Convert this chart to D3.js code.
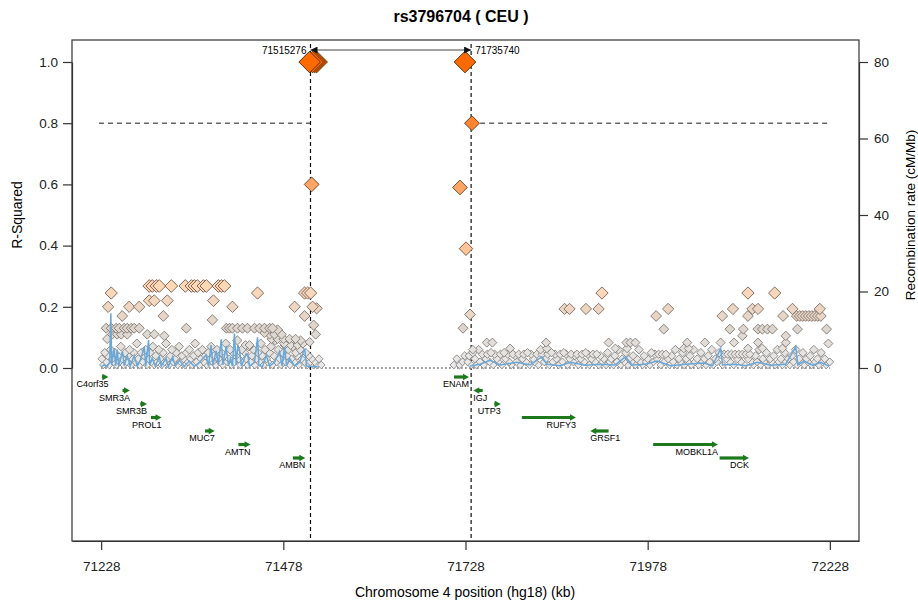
<!DOCTYPE html>
<html>
<head>
<meta charset="utf-8">
<script src="https://cdn.jsdelivr.net/npm/d3@7"></script>
<style>
body { margin: 0; background: #fff; }
svg { font-family: "Liberation Sans", Arial, Helvetica, sans-serif; }
</style>
</head>
<body>
<svg id="chart"></svg>
<script>
// ---- chart data ----
var title = "rs3796704 ( CEU )";
var xTicks = [71228, 71478, 71728, 71978, 72228];
var r2Ticks = [0, 0.2, 0.4, 0.6, 0.8, 1.0];
var recTicks = [0, 20, 40, 60, 80];
var queryPos = [71515.276, 71735.740];
var queryLabels = ["71515276", "71735740"];
var r2Threshold = 0.8;

// [position kb, r-squared]
var highSnps = [
  [71523.7, 1.0], [71521.0, 1.0], [71518.2, 1.0], [71514.1, 1.0],
  [71727.3, 1.0], [71736.9, 0.8], [71516.9, 0.6], [71720.4, 0.59], [71728.7, 0.39]
];

var leftUpperSnps = [
  [71294.0, 0.268], [71298.2, 0.268], [71303.7, 0.268], [71307.8, 0.268], [71324.3, 0.268],
  [71343.5, 0.268], [71351.8, 0.268], [71355.9, 0.268], [71360.0, 0.268], [71368.3, 0.268],
  [71372.4, 0.268], [71388.9, 0.268], [71393.1, 0.268], [71397.2, 0.268],
  [71241.8, 0.245], [71442.6, 0.245], [71507.2, 0.245], [71511.4, 0.245], [71515.5, 0.245],
  [71294.0, 0.22], [71300.9, 0.22], [71318.8, 0.22], [71382.1, 0.22],
  [71237.6, 0.2], [71266.5, 0.2], [71280.3, 0.2], [71408.2, 0.2], [71493.5, 0.2], [71518.2, 0.2], [71523.7, 0.195],
  [71256.9, 0.17], [71313.3, 0.17], [71380.7, 0.157], [71507.2, 0.17], [71519.6, 0.14],
  [71234.9, 0.13], [71241.8, 0.13], [71248.6, 0.13], [71252.8, 0.13], [71259.6, 0.13], [71263.8, 0.13],
  [71269.3, 0.13], [71273.4, 0.13], [71280.3, 0.13], [71344.9, 0.13], [71399.9, 0.13], [71404.1, 0.13],
  [71408.2, 0.13], [71415.1, 0.13], [71421.9, 0.13], [71428.8, 0.13], [71438.5, 0.13], [71445.3, 0.13],
  [71452.2, 0.13], [71459.1, 0.13], [71463.2, 0.13], [71470.1, 0.125],
  [71243.1, 0.11], [71250.0, 0.11], [71255.5, 0.11], [71263.8, 0.11], [71291.3, 0.11], [71300.9, 0.11],
  [71314.7, 0.105], [71452.2, 0.115], [71459.1, 0.11], [71466.0, 0.11], [71475.6, 0.11], [71522.4, 0.11],
  [71236.3, 0.095], [71461.8, 0.095], [71470.1, 0.095], [71478.3, 0.095], [71486.6, 0.095],
  [71494.8, 0.095], [71501.7, 0.09], [71514.1, 0.085],
  [71426.1, 0.075], [71431.6, 0.075], [71479.7, 0.075], [71488.0, 0.075], [71497.6, 0.075]
];

var leftLowSnps = [
  [71229, .03], [71231, .01], [71233, .05], [71235, .02], [71237, .04], [71239, .01], [71241, .06],
  [71243, .03], [71245, .02], [71247, .05], [71249, .01], [71251, .04], [71253, .02], [71255, .07],
  [71257, .03], [71259, .01], [71261, .05], [71263, .02], [71265, .04], [71267, .06], [71269, .01],
  [71271, .03], [71273, .05], [71275, .02], [71277, .08], [71279, .03], [71281, .01], [71283, .05],
  [71285, .02], [71287, .04], [71289, .06], [71291, .01], [71293, .03], [71295, .05], [71297, .02],
  [71299, .07], [71301, .01], [71303, .04], [71305, .02], [71307, .06], [71309, .03], [71311, .01],
  [71313, .05], [71315, .02], [71317, .08], [71319, .03], [71321, .01], [71323, .04], [71325, .06],
  [71327, .02], [71329, .03], [71331, .05], [71333, .01], [71335, .07], [71337, .02], [71339, .04],
  [71341, .03], [71343, .01], [71345, .05], [71347, .02], [71349, .06], [71351, .03], [71353, .01],
  [71355, .04], [71357, .08], [71359, .02], [71361, .05], [71363, .01], [71365, .03], [71367, .06],
  [71369, .02], [71371, .04], [71373, .01], [71375, .05], [71377, .03], [71379, .07], [71381, .02],
  [71383, .04], [71385, .01], [71387, .06], [71389, .03], [71391, .02], [71393, .05], [71395, .01],
  [71397, .04], [71399, .08], [71401, .02], [71403, .03], [71405, .06], [71407, .01], [71409, .05],
  [71411, .02], [71413, .04], [71415, .09], [71417, .03], [71419, .01], [71421, .06], [71423, .02],
  [71425, .05], [71427, .03], [71429, .01], [71431, .07], [71433, .02], [71435, .04], [71437, .06],
  [71439, .01], [71441, .03], [71443, .05], [71445, .02], [71447, .08], [71449, .04], [71451, .01],
  [71453, .06], [71455, .03], [71457, .02], [71459, .05], [71461, .07], [71463, .01], [71465, .04],
  [71467, .09], [71469, .02], [71471, .06], [71473, .03], [71475, .01], [71477, .05], [71479, .08],
  [71481, .02], [71483, .04], [71485, .06], [71487, .01], [71489, .03], [71491, .07], [71493, .02],
  [71495, .05], [71497, .04], [71499, .01], [71501, .06], [71503, .03], [71505, .08], [71507, .02],
  [71509, .05], [71511, .01], [71513, .04], [71515, .02], [71517, .03], [71519, .01], [71521, .02],
  [71524, .01], [71527, .03], [71530, .01]
];

var rightUpperSnps = [
  [71915.3, 0.245], [72115.6, 0.245], [72152.3, 0.245],
  [71863.9, 0.193], [71870.8, 0.193], [71893.3, 0.193], [71910.7, 0.193], [72006.1, 0.193],
  [72095.0, 0.193], [72121.7, 0.193], [72129.4, 0.193], [72176.7, 0.193], [72214.2, 0.193],
  [71989.6, 0.17], [72080.4, 0.17], [72115.6, 0.17], [72163.8, 0.17], [71734.2, 0.175],
  [72182.6, 0.17], [72186.7, 0.17], [72190.8, 0.17], [72195.0, 0.17], [72199.1, 0.17],
  [72203.2, 0.17], [72207.4, 0.17], [72211.5, 0.17], [72215.6, 0.17],
  [72000.1, 0.127], [72090.8, 0.127], [72109.3, 0.127], [72129.4, 0.127], [72135.4, 0.127],
  [72142.3, 0.127], [72149.2, 0.127], [72183.6, 0.127], [72223.5, 0.127], [71724.6, 0.13],
  [72107.9, 0.105], [72167.5, 0.105],
  [71757.2, 0.083], [71764.9, 0.083], [71838.7, 0.083], [71924.4, 0.083], [71948.8, 0.083],
  [71954.3, 0.083], [71961.1, 0.083], [72032.3, 0.083], [72056.5, 0.083], [72078.1, 0.083],
  [72096.4, 0.083], [72129.4, 0.083], [72167.5, 0.083],
  [71789.2, 0.064], [71839.7, 0.064], [71933.6, 0.064], [71949.7, 0.064], [72027.6, 0.064],
  [72034.1, 0.064], [72115.6, 0.064], [72135.4, 0.064], [72162.9, 0.064], [71738.0, 0.06]
];

var rightLowSnps = [
  [71712, .01], [71716, .03], [71720, .01], [71724, .02], [71727, .04],
  [71731, .02], [71733, .04], [71736, .01], [71738, .05], [71741, .03], [71743, .01], [71746, .06],
  [71748, .02], [71751, .045], [71753, .01], [71756, .03], [71758, .045], [71761, .02], [71763, .05],
  [71766, .01], [71768, .045], [71771, .03], [71773, .02], [71776, .045], [71778, .01], [71781, .05],
  [71783, .03], [71786, .045], [71788, .02], [71791, .01], [71793, .045], [71796, .04], [71798, .02],
  [71801, .045], [71803, .01], [71806, .03], [71808, .045], [71811, .02], [71813, .05], [71816, .01],
  [71818, .045], [71821, .03], [71823, .02], [71826, .045], [71828, .01], [71831, .06], [71833, .045],
  [71836, .02], [71838, .03], [71841, .045], [71843, .01], [71846, .05], [71848, .02], [71851, .045],
  [71853, .03], [71856, .01], [71858, .045], [71861, .02], [71863, .05], [71866, .045], [71868, .01],
  [71871, .03], [71873, .045], [71876, .02], [71878, .04], [71881, .045], [71883, .01], [71886, .03],
  [71888, .045], [71891, .02], [71893, .05], [71896, .045], [71898, .01], [71901, .03], [71903, .045],
  [71906, .02], [71908, .045], [71911, .01], [71913, .04], [71916, .02], [71918, .03], [71921, .01],
  [71923, .05], [71926, .02], [71928, .03], [71931, .01], [71933, .04], [71936, .02], [71938, .06],
  [71941, .01], [71943, .03], [71946, .02], [71948, .05], [71951, .01], [71953, .03], [71956, .02],
  [71958, .04], [71961, .01], [71963, .03], [71966, .06], [71968, .02], [71971, .01], [71973, .04],
  [71976, .02], [71978, .03], [71981, .01], [71983, .05], [71986, .02], [71988, .045], [71991, .03],
  [71993, .045], [71996, .01], [71998, .045], [72001, .02], [72003, .045], [72006, .03], [72008, .01],
  [72011, .04], [72013, .02], [72016, .06], [72018, .01], [72021, .03], [72023, .02], [72026, .05],
  [72028, .01], [72031, .03], [72033, .02], [72036, .04], [72038, .01], [72041, .06], [72043, .02],
  [72046, .03], [72048, .01], [72051, .05], [72053, .02], [72056, .03], [72058, .01], [72061, .04],
  [72063, .02], [72066, .06], [72068, .01], [72071, .03], [72073, .02], [72076, .05], [72078, .045],
  [72081, .01], [72083, .045], [72086, .03], [72088, .045], [72091, .02], [72093, .045], [72096, .01],
  [72098, .045], [72101, .03], [72103, .045], [72106, .02], [72108, .045], [72111, .01], [72113, .045],
  [72116, .03], [72118, .045], [72121, .02], [72123, .01], [72126, .04], [72128, .02], [72131, .06],
  [72133, .01], [72136, .03], [72138, .02], [72141, .05], [72143, .01], [72146, .03], [72148, .02],
  [72151, .04], [72153, .01], [72156, .06], [72158, .02], [72161, .03], [72163, .01], [72166, .05],
  [72168, .02], [72171, .03], [72173, .01], [72176, .04], [72178, .02], [72181, .06], [72183, .01],
  [72186, .03], [72188, .02], [72191, .05], [72193, .01], [72196, .03], [72198, .02], [72201, .04],
  [72203, .01], [72206, .06], [72208, .02], [72211, .03], [72213, .01], [72216, .05], [72218, .02],
  [72221, .03], [72223, .01], [72226, .08], [72228, .02]
];

// recombination rate, [position kb, cM/Mb]
var recombLeft = [
  [71228.0, 0.3], [71232.1, 0.8], [71236.3, 0.4], [71239.7, 1.5], [71241.3, 14.3], [71242.4, 0.8],
  [71245.9, 5.2], [71247.9, 0.6], [71250.0, 4.8], [71252.1, 0.5], [71257.3, 4.3], [71259.6, 0.6],
  [71263.8, 3.2], [71267.9, 0.5], [71273.4, 3.3], [71277.5, 0.4], [71281.6, 2.0], [71287.1, 5.5],
  [71289.2, 0.5], [71293.1, 7.3], [71294.7, 0.8], [71298.2, 2.5], [71302.3, 0.5], [71307.8, 3.0],
  [71310.5, 0.5], [71317.0, 2.6], [71320.2, 0.4], [71326.1, 2.9], [71329.8, 0.5], [71335.3, 2.0],
  [71342.2, 0.4], [71349.0, 1.8], [71355.9, 0.4], [71362.8, 1.5], [71372.0, 3.4], [71375.2, 0.5],
  [71378.9, 6.0], [71381.4, 0.8], [71385.8, 4.5], [71388.9, 0.8], [71392.7, 7.5], [71395.1, 0.8],
  [71399.5, 5.8], [71402.7, 0.6], [71405.4, 2.5], [71408.2, 0.5], [71410.9, 9.0], [71413.3, 0.8],
  [71415.5, 6.0], [71417.8, 4.7], [71420.6, 0.5], [71427.0, 3.7], [71429.2, 3.5], [71431.6, 0.5],
  [71438.5, 1.5], [71442.6, 8.0], [71444.5, 0.6], [71449.5, 0.4], [71454.6, 3.4], [71459.1, 0.5],
  [71466.0, 1.5], [71472.8, 4.3], [71476.3, 0.5], [71479.7, 5.5], [71482.5, 0.5], [71486.6, 2.5],
  [71493.5, 0.5], [71500.3, 1.5], [71507.2, 5.1], [71510.0, 0.5], [71516.9, 0.4], [71525.1, 0.3]
];

var recombRight = [
  [71734.2, 0.5], [71748.0, 1.0], [71761.7, 2.0], [71775.5, 0.8], [71798.5, 1.5], [71816.7, 0.8],
  [71832.8, 2.9], [71839.7, 1.0], [71858.0, 0.6], [71871.7, 1.5], [71892.4, 0.7], [71913.0, 1.0],
  [71933.6, 0.8], [71947.4, 2.9], [71957.0, 0.8], [71974.9, 1.0], [71991.0, 1.8], [72009.3, 0.6],
  [72029.9, 1.0], [72055.1, 1.3], [72067.1, 0.6], [72078.1, 5.1], [72080.8, 0.8], [72098.7, 1.0],
  [72112.5, 0.6], [72128.5, 1.5], [72146.8, 0.7], [72167.5, 1.0], [72181.2, 5.6], [72184.0, 0.8],
  [72192.7, 1.8], [72204.6, 0.7], [72215.6, 1.5], [72226.6, 0.5]
];

// genes
var geneNames  = ["C4orf35", "SMR3A", "SMR3B", "PROL1", "MUC7", "AMTN", "AMBN",
                  "ENAM", "IGJ", "UTP3", "RUFY3", "GRSF1", "MOBKL1A", "DCK"];
var geneStart  = [71229.0, 71257.3, 71281.6, 71296.4, 71370.6, 71416.4, 71491.1,
                  71712.2, 71738.7, 71767.6, 71805.3, 71899.2, 71985.5, 72076.7];
var geneEnd    = [71238.0, 71267.5, 71290.9, 71310.9, 71383.8, 71433.0, 71508.2,
                  71732.8, 71751.6, 71776.4, 71879.6, 71924.4, 72074.4, 72117.0];
var geneStrand = ["+", "+", "+", "+", "+", "+", "+",
                  "+", "-", "+", "+", "-", "+", "+"];

// ---- layout ----
var width = 918, height = 603;
var box = {left: 72, top: 40, right: 859, bottom: 541};

var svg = d3.select("#chart")
  .attr("width", width)
  .attr("height", height);

var x = d3.scaleLinear().domain([71188, 72268]).range([box.left, box.right]);
var y = d3.scaleLinear().domain([0, 1]).range([368, 62]);
var yRec = d3.scaleLinear().domain([0, 80]).range([y(0), y(1)]);

// colour and size of a diamond follow the r-squared value
var fillScale = d3.scaleLinear()
  .domain([0, 0.13, 0.27, 0.6, 0.8, 1])
  .range(["#ececec", "#ddd5ce", "#ffd8b6", "#ffa464", "#ff8530", "#ff6a00"])
  .clamp(true);
var strokeScale = d3.scaleLinear()
  .domain([0, 0.13, 0.27, 1])
  .range(["#8a8a8a", "#80766e", "#75594a", "#4a2400"])
  .clamp(true);
var sizeScale = d3.scaleLinear()
  .domain([0, 0.27, 0.6, 0.8, 1])
  .range([3.7, 6.4, 7.4, 7.4, 10.8])
  .clamp(true);

function diamond(s) {
  return "M0," + (-s) + "L" + s + ",0L0," + s + "L" + (-s) + ",0Z";
}

// title
svg.append("text")
  .attr("x", 461).attr("y", 22)
  .attr("text-anchor", "middle")
  .style("font-size", "16px").style("font-weight", "bold")
  .text(title);

// zero line (dotted)
svg.append("line")
  .attr("x1", x(71228)).attr("x2", x(72228))
  .attr("y1", y(0)).attr("y2", y(0))
  .attr("stroke", "#111").attr("stroke-width", 1.2)
  .attr("stroke-dasharray", "1.5,2.5");

// r2 threshold lines
svg.append("line")
  .attr("x1", x(71225)).attr("x2", x(queryPos[0]))
  .attr("y1", y(r2Threshold)).attr("y2", y(r2Threshold))
  .attr("stroke", "#666").attr("stroke-width", 1.6).attr("stroke-dasharray", "5,4");
svg.append("line")
  .attr("x1", x(queryPos[1])).attr("x2", x(72225))
  .attr("y1", y(r2Threshold)).attr("y2", y(r2Threshold))
  .attr("stroke", "#666").attr("stroke-width", 1.6).attr("stroke-dasharray", "5,4");

// query position lines
svg.selectAll(".qline")
  .data(queryPos)
  .enter().append("line")
    .attr("class", "qline")
    .attr("x1", function(d) { return x(d); }).attr("x2", function(d) { return x(d); })
    .attr("y1", 44).attr("y2", box.bottom)
    .attr("stroke", "#111").attr("stroke-width", 1.2)
    .attr("stroke-dasharray", "4,3");

// SNP diamonds, lowest r2 drawn first
var snps = [].concat(leftLowSnps, rightLowSnps, leftUpperSnps, rightUpperSnps, highSnps);
var ordered = snps.map(function(d, i) { return {pos: d[0], r2: d[1], i: i}; })
  .sort(function(a, b) { return (a.r2 - b.r2) || (a.i - b.i); });

svg.append("g").selectAll("path")
  .data(ordered)
  .enter().append("path")
    .attr("transform", function(d) { return "translate(" + x(d.pos) + "," + y(d.r2) + ")"; })
    .attr("d", function(d) { return diamond(sizeScale(d.r2)); })
    .attr("fill", function(d) { return fillScale(d.r2); })
    .attr("stroke", function(d) { return strokeScale(d.r2); })
    .attr("stroke-width", 0.9);

// recombination rate
var recLine = d3.line()
  .x(function(d) { return x(d[0]); })
  .y(function(d) { return yRec(d[1]); });

[recombLeft, recombRight].forEach(function(series) {
  svg.append("path")
    .datum(series)
    .attr("d", recLine)
    .attr("fill", "none")
    .attr("stroke", "#6aa8d9")
    .attr("stroke-width", 1.5);
});

// genes
var geneRow = d3.scalePoint().domain(d3.range(7)).range([y(0) + 9, y(0) + 90]);
var genes = geneNames.map(function(n, i) {
  return {name: n, start: geneStart[i], end: geneEnd[i], strand: geneStrand[i], row: i % 7};
});
var gg = svg.append("g").selectAll("g")
  .data(genes)
  .enter().append("g")
    .attr("transform", function(d) { return "translate(0," + geneRow(d.row) + ")"; });

gg.append("line")
  .attr("x1", function(d) { return d.strand == "+" ? x(d.start) : x(d.start) + 4; })
  .attr("x2", function(d) { return d.strand == "+" ? x(d.end) - 4 : x(d.end); })
  .attr("y1", 0).attr("y2", 0)
  .attr("stroke", "#1c7a1c").attr("stroke-width", 3.2);

gg.append("path")
  .attr("d", function(d) {
    if (d.strand == "+") {
      var t = x(d.end);
      return "M" + t + ",0L" + (t - 6) + ",-3.2L" + (t - 6) + ",3.2Z";
    }
    var s = x(d.start);
    return "M" + s + ",0L" + (s + 6) + ",-3.2L" + (s + 6) + ",3.2Z";
  })
  .attr("fill", "#1c7a1c");

gg.append("text")
  .attr("x", function(d) { return d.strand == "+" ? x(d.end) : x(d.start); })
  .attr("y", 10)
  .attr("text-anchor", function(d) { return d.strand == "+" ? "end" : "start"; })
  .style("font-size", "9px")
  .text(function(d) { return d.name; });

// arrow between the two query positions
var defs = svg.append("defs");
defs.append("marker")
  .attr("id", "head")
  .attr("viewBox", "0 0 10 10")
  .attr("refX", 10).attr("refY", 5)
  .attr("markerWidth", 10).attr("markerHeight", 7)
  .attr("markerUnits", "userSpaceOnUse")
  .attr("orient", "auto-start-reverse")
  .append("path").attr("d", "M0,0L10,5L0,10Z").attr("fill", "#111");

svg.append("line")
  .attr("x1", x(queryPos[0])).attr("x2", x(queryPos[1]))
  .attr("y1", 50).attr("y2", 50)
  .attr("stroke", "#444").attr("stroke-width", 1)
  .attr("marker-start", "url(#head)")
  .attr("marker-end", "url(#head)");

svg.append("text")
  .attr("x", x(queryPos[0]) - 4).attr("y", 53.5)
  .attr("text-anchor", "end")
  .style("font-size", "10px")
  .text(queryLabels[0]);
svg.append("text")
  .attr("x", x(queryPos[1]) + 4).attr("y", 53.5)
  .attr("text-anchor", "start")
  .style("font-size", "10px")
  .text(queryLabels[1]);

// frame
svg.append("rect")
  .attr("x", box.left).attr("y", box.top)
  .attr("width", box.right - box.left).attr("height", box.bottom - box.top)
  .attr("fill", "none").attr("stroke", "#333").attr("stroke-width", 1.2);

// axes
var xAxis = svg.append("g")
  .attr("transform", "translate(0," + box.bottom + ")")
  .call(d3.axisBottom(x).tickValues(xTicks).tickFormat(d3.format("d"))
    .tickSize(9).tickSizeOuter(0).tickPadding(11));

var yAxis = svg.append("g")
  .attr("transform", "translate(" + box.left + ",0)")
  .call(d3.axisLeft(y).tickValues(r2Ticks).tickFormat(d3.format(".1f"))
    .tickSize(9).tickSizeOuter(0).tickPadding(5));

var rAxis = svg.append("g")
  .attr("transform", "translate(" + box.right + ",0)")
  .call(d3.axisRight(yRec).tickValues(recTicks).tickFormat(d3.format("d"))
    .tickSize(9).tickSizeOuter(0).tickPadding(6));

[xAxis, yAxis, rAxis].forEach(function(a) {
  a.select(".domain").attr("stroke", "#333").attr("stroke-width", 1.2);
  a.selectAll(".tick line").attr("stroke", "#333").attr("stroke-width", 1.2);
  a.selectAll(".tick text")
    .attr("fill", "#222")
    .style("font-family", "'Liberation Sans', Arial, sans-serif")
    .style("font-size", "13.5px");
});

// axis titles
svg.append("text")
  .attr("x", 465).attr("y", 597)
  .attr("text-anchor", "middle")
  .style("font-size", "14px")
  .text("Chromosome 4 position (hg18) (kb)");

svg.append("text")
  .attr("transform", "translate(22," + y(0.5) + ") rotate(-90)")
  .attr("text-anchor", "middle")
  .style("font-size", "14px")
  .text("R-Squared");

svg.append("text")
  .attr("transform", "translate(915," + y(0.5) + ") rotate(-90)")
  .attr("text-anchor", "middle")
  .style("font-size", "13.5px")
  .text("Recombination rate (cM/Mb)");
</script>
</body>
</html>
